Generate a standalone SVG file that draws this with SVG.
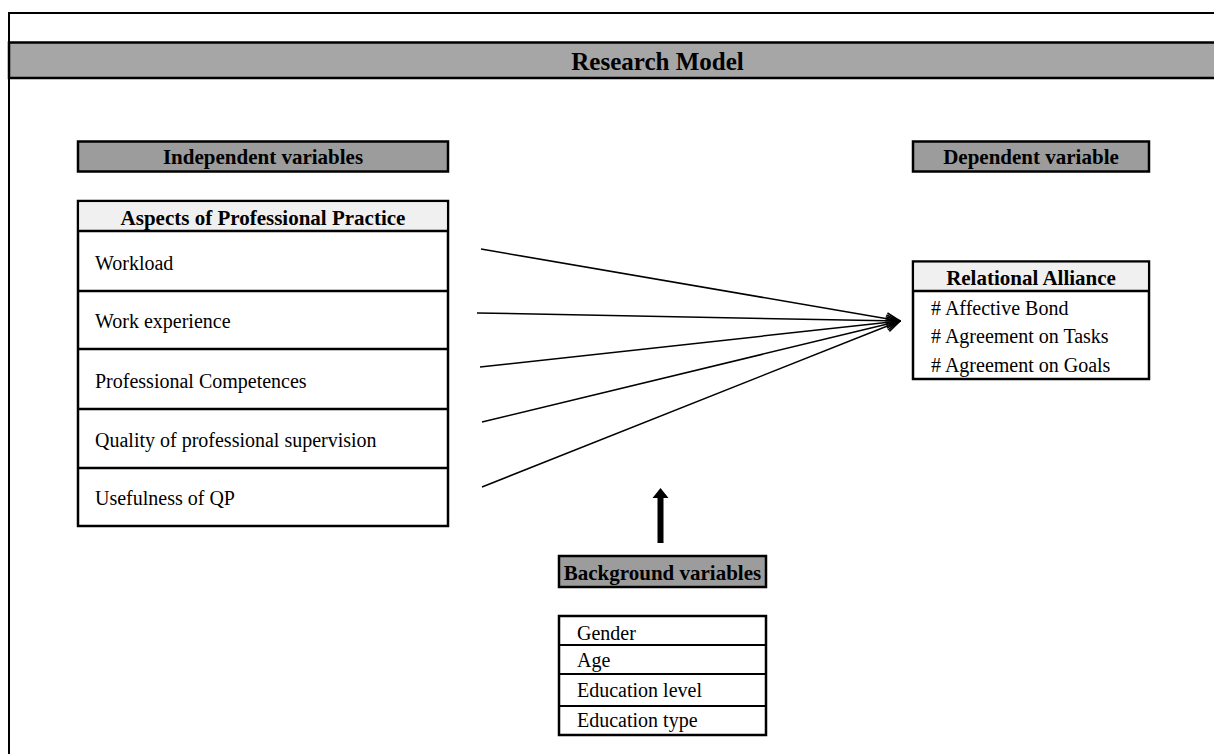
<svg xmlns="http://www.w3.org/2000/svg" width="1214" height="754" viewBox="0 0 1214 754">
<defs>
<style>
text{font-family:"Liberation Serif","Times New Roman",serif;fill:#000}
.b{font-weight:bold;font-size:21px}
.r{font-size:20px}
.t{font-weight:bold;font-size:25px}
.box{stroke:#000;stroke-width:2.5}
.gray{fill:#9c9c9c}
.hd{fill:#f0f0f0}
.wh{fill:#fff}
.div{stroke:#000;stroke-width:2.5}
.div2{stroke:#000;stroke-width:2}
.con{stroke:#000;stroke-width:1.5;fill:none}
</style>
<marker id="open" markerUnits="userSpaceOnUse" markerWidth="16" markerHeight="16" viewBox="0 0 14 14" refX="13" refY="7" orient="auto">
<path d="M1,2 L13,7 L1,12" fill="none" stroke="#000" stroke-width="1.4"/>
</marker>
</defs>
<rect x="0" y="0" width="1214" height="754" fill="#fff"/>
<g id="frame">
<path d="M9,754 V13 H1214" fill="none" stroke="#000" stroke-width="2"/>
<rect x="9" y="42.5" width="1210" height="35.5" fill="#a6a6a6" stroke="#000" stroke-width="2.5"/>
<text class="t" x="657.5" y="70" text-anchor="middle">Research Model</text>
</g>
<g id="independent-label">
<rect class="box gray" x="78" y="141.5" width="370" height="30"/>
<text class="b" x="263" y="164" text-anchor="middle">Independent variables</text>
</g>
<g id="dependent-label">
<rect class="box gray" x="913" y="141.5" width="236" height="30"/>
<text class="b" x="1031" y="163.5" text-anchor="middle">Dependent variable</text>
</g>
<g id="aspects">
<rect class="box wh" x="78" y="201" width="370" height="325"/>
<rect class="hd" x="79.25" y="202.25" width="367.5" height="28.75"/>
<line class="div" x1="78" y1="231" x2="448" y2="231"/>
<line class="div" x1="78" y1="291" x2="448" y2="291"/>
<line class="div" x1="78" y1="349" x2="448" y2="349"/>
<line class="div" x1="78" y1="409" x2="448" y2="409"/>
<line class="div" x1="78" y1="468" x2="448" y2="468"/>
<text class="b" x="263" y="225" text-anchor="middle">Aspects of Professional Practice</text>
<text class="r" x="95" y="270">Workload</text>
<text class="r" x="95" y="328">Work experience</text>
<text class="r" x="95" y="388">Professional Competences</text>
<text class="r" x="95" y="447">Quality of professional supervision</text>
<text class="r" x="95" y="505">Usefulness of QP</text>
</g>
<g id="relational-alliance">
<rect class="box wh" x="913" y="261.5" width="236" height="117.5"/>
<rect class="hd" x="914.25" y="262.75" width="233.5" height="28.25"/>
<line class="div" x1="913" y1="291" x2="1149" y2="291"/>
<text class="b" x="1031" y="285" text-anchor="middle">Relational Alliance</text>
<text class="r" x="931" y="315"># Affective Bond</text>
<text class="r" x="931" y="343"># Agreement on Tasks</text>
<text class="r" x="931" y="372"># Agreement on Goals</text>
</g>
<g id="background-label">
<rect class="box gray" x="559" y="556" width="207" height="31"/>
<text class="b" x="662.5" y="580" text-anchor="middle">Background variables</text>
</g>
<g id="background-list">
<rect class="box wh" x="559" y="616" width="207" height="119"/>
<line class="div2" x1="559" y1="645" x2="766" y2="645"/>
<line class="div2" x1="559" y1="674" x2="766" y2="674"/>
<line class="div2" x1="559" y1="706" x2="766" y2="706"/>
<text class="r" x="577" y="640">Gender</text>
<text class="r" x="577" y="667">Age</text>
<text class="r" x="577" y="697">Education level</text>
<text class="r" x="577" y="727">Education type</text>
</g>
<g id="connectors">
<line class="con" x1="481" y1="249" x2="900" y2="321" marker-end="url(#open)"/>
<line class="con" x1="477" y1="313" x2="900" y2="321" marker-end="url(#open)"/>
<line class="con" x1="480" y1="367" x2="900" y2="321" marker-end="url(#open)"/>
<line class="con" x1="482" y1="422" x2="900" y2="321" marker-end="url(#open)"/>
<line class="con" x1="482" y1="487" x2="900" y2="321" marker-end="url(#open)"/>
<polygon points="657.5,543 657.5,498 652.5,498 660.5,488 668.5,498 663.5,498 663.5,543" fill="#000"/>
</g>
</svg>
